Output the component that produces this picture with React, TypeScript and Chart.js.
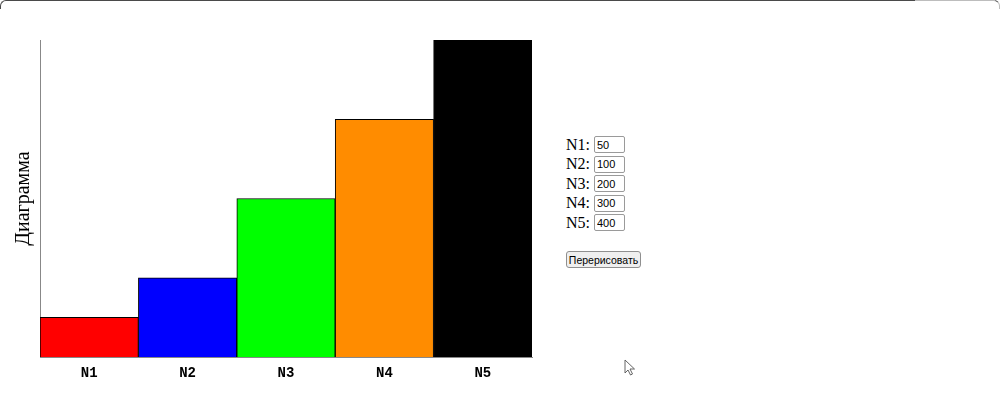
import React, { useEffect, useRef } from "react";
import { Chart, registerables } from "chart.js";

Chart.register(...registerables);

const categories = ["N1", "N2", "N3", "N4", "N5"];
const values = [50, 100, 200, 300, 400];
const barColors = ["#ff0000", "#0000ff", "#00ff00", "#ff8c00", "#000000"];
const yTitle = "Диаграмма";
const buttonLabel = "Перерисовать";

export default function App() {
  const canvasRef = useRef<HTMLCanvasElement | null>(null);

  useEffect(() => {
    document.body.style.margin = "0";
    const ctx = canvasRef.current!;
    const chart = new Chart(ctx, {
      type: "bar",
      data: {
        labels: categories,
        datasets: [
          {
            data: values,
            backgroundColor: barColors,
            borderColor: "#000000",
            borderWidth: 1,
            barPercentage: 1,
            categoryPercentage: 1,
          },
        ],
      },
      options: {
        responsive: false,
        animation: false,
        events: [],
        layout: { padding: { top: 40, right: 28, bottom: 0, left: 0 } },
        plugins: { legend: { display: false }, tooltip: { enabled: false } },
        scales: {
          x: {
            grid: { display: false, drawTicks: false },
            border: { display: true, color: "#888888", width: 1 },
            ticks: {
              color: "#000000",
              padding: 8,
              font: { family: "'Liberation Mono', 'Courier New', monospace", size: 14, weight: "bold" },
            },
            afterFit: (s: any) => {
              s.height = 41;
            },
          },
          y: {
            min: 0,
            max: 400,
            grid: { display: false, drawTicks: false },
            border: { display: true, color: "#888888", width: 1 },
            ticks: { display: false },
            title: {
              display: true,
              text: yTitle,
              color: "#000000",
              padding: { top: 12, bottom: 0 },
              font: { family: "'Liberation Serif', 'Times New Roman', serif", size: 20, weight: "normal" },
            },
            afterFit: (s: any) => {
              s.width = 40;
            },
          },
        },
      },
    });
    return () => chart.destroy();
  }, []);

  const rowTop = 136;
  const rowStep = 19.5;

  return (
    <div style={{ position: "fixed", left: 0, top: 0, width: 1000, height: 398, background: "#fff", overflow: "hidden" }}>
      <div
        style={{
          position: "absolute",
          left: 0,
          top: 0,
          width: 998,
          height: 8,
          borderTop: "1px solid #4a4a4a",
          borderLeft: "1px solid #4a4a4a",
          borderRight: "1px solid #bdbdbd",
          borderRadius: "6px 6px 0 0",
        }}
      />
      <div style={{ position: "absolute", left: 915, top: 0, width: 80, height: 1, background: "#bdbdbd" }} />
      <canvas ref={canvasRef} width={560} height={398} style={{ position: "absolute", left: 0, top: 0 }} />
      {categories.map((c, i) => (
        <div
          key={c}
          style={{
            position: "absolute",
            left: 566,
            top: rowTop + i * rowStep,
            height: 17,
            display: "flex",
            alignItems: "center",
            fontFamily: "'Liberation Serif', 'Times New Roman', serif",
            fontSize: 16,
            color: "#000",
          }}
        >
          <span style={{ width: 28 }}>{c}:</span>
          <input
            readOnly
            value={String(values[i])}
            style={{
              width: 31,
              height: 17,
              boxSizing: "border-box",
              fontSize: 11,
              fontFamily: "'Liberation Sans', Arial, sans-serif",
              color: "#000",
              background: "#fff",
              padding: "0 2px",
              border: "1px solid #9a9a9a",
              borderRadius: 2,
              margin: 0,
              outline: "none",
            }}
          />
        </div>
      ))}
      <button
        style={{
          position: "absolute",
          left: 566,
          top: 251,
          width: 75,
          height: 17,
          boxSizing: "border-box",
          padding: 0,
          fontSize: 10.5,
          fontFamily: "'Liberation Sans', Arial, sans-serif",
          border: "1px solid #8f8f8f",
          borderRadius: 3,
          background: "#efefef",
          color: "#000",
          whiteSpace: "nowrap",
          textAlign: "center",
        }}
      >
        {buttonLabel}
      </button>
      <svg style={{ position: "absolute", left: 624, top: 359 }} width={14} height={18} viewBox="0 0 14 18">
        <path d="M1 1 L1 14 L4 11 L6.5 16 L8.5 15 L6 10 L10.5 10 Z" fill="#fff" stroke="#555" strokeWidth={0.9} />
      </svg>
    </div>
  );
}
